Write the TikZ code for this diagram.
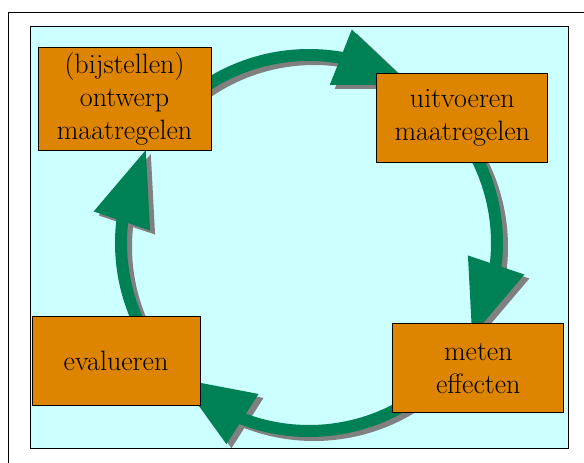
\documentclass[tikz,border=0pt]{standalone}
\usetikzlibrary{positioning,arrows.meta,bending}

\definecolor{cyanbg}{RGB}{204,255,255}
\definecolor{boxorange}{RGB}{221,132,0}
\definecolor{ringgreen}{RGB}{0,128,85}
\definecolor{shadowgray}{RGB}{128,128,128}

\begin{document}
\begin{tikzpicture}[x=1pt, y=1pt,
main node/.style={rectangle,draw,line width=0.8pt,fill=boxorange,align=center,inner sep=0pt,
  minimum width=171pt,minimum height=89pt,font=\fontsize{28}{33}\selectfont},
ring/.style={line width=12pt,-{Triangle[length=76pt,width=56pt,flex]}}]

\useasboundingbox (0,0) rectangle (584,463);
\draw[line width=1pt] (8,-20) -- (8,450) -- (600,450);
\draw[line width=1pt,fill=cyanbg] (30,14) rectangle (568,436);

% ring with the four arrows
\coordinate (O) at (309,220);
\path (O) ++(135:188) coordinate (a1) (O) ++(35:188) coordinate (a2)
      (O) ++(-40:188) coordinate (a3) (O) ++(215:188) coordinate (a4);
\foreach \col/\dx/\dy in {shadowgray/5/-4, ringgreen/0/0} {
\begin{scope}[transform canvas={shift={(\dx pt,\dy pt)}}]
\draw[ring,draw=\col] (a1) arc[start angle=135,end angle=57,radius=188];
\draw[ring,draw=\col] (a2) arc[start angle=35,end angle=-30,radius=188];
\draw[ring,draw=\col] (a3) arc[start angle=-40,end angle=-134,radius=188];
\draw[ring,draw=\col] (a4) arc[start angle=215,end angle=150,radius=188];
\end{scope}
}

\node[main node] [minimum width=173pt,minimum height=103pt] (A) at (124.5,364.5) {(bijstellen)\\ontwerp\\maatregelen};
\node[main node] (B) [right=165pt of A, yshift=-19pt] {uitvoeren\\maatregelen};
\node[main node] (C) [below=161pt of B, xshift=16pt] {meten\\effecten};
\node[main node] [minimum width=168pt] (D) [left=192pt of C, yshift=7pt] {evalueren};
\end{tikzpicture}
\end{document}
